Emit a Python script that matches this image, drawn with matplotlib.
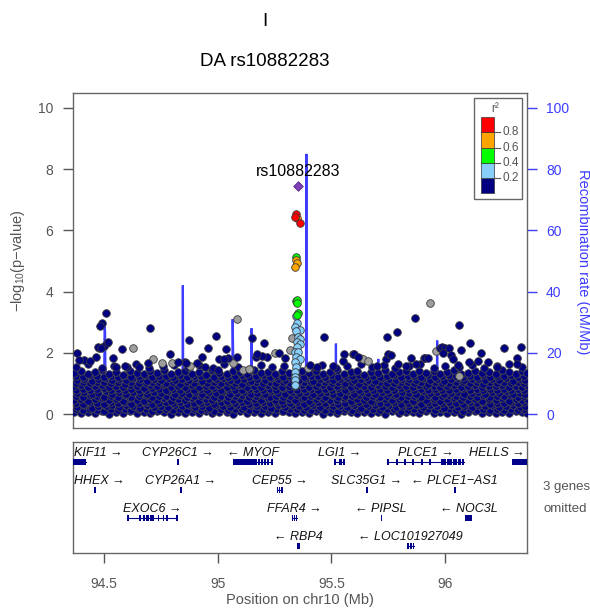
import matplotlib
matplotlib.use('Agg')
import matplotlib.pyplot as plt
from matplotlib.patches import Rectangle

plt.rcParams['font.family'] = ['Liberation Sans', 'DejaVu Sans']
plt.rcParams['mathtext.fontset'] = 'custom'
plt.rcParams['mathtext.rm'] = 'Liberation Sans'
plt.rcParams['mathtext.it'] = 'Liberation Sans:italic'

# ---------------- data ----------------
lead_name = 'rs10882283'
lead_pos = [95.355]
lead_logp = [7.45]

red_pos = [95.346, 95.342, 95.360]
red_logp = [6.53, 6.45, 6.24]
orange_pos = [95.351, 95.346, 95.351, 95.342]
orange_logp = [6.40, 5.03, 4.93, 4.81]
green_pos = [95.346, 95.346, 95.351, 95.351, 95.355, 95.351]
green_logp = [5.13, 3.70, 3.73, 3.63, 3.30, 3.23]
lblue_pos = [95.346, 95.351, 95.338, 95.360, 95.346, 95.355, 95.364, 95.351, 95.360,
             95.351, 95.342, 95.355, 95.346, 95.351, 95.360, 95.338, 95.346, 95.342,
             95.342, 95.342, 95.342]
lblue_logp = [3.20, 2.97, 2.85, 2.75, 2.70, 2.52, 2.45, 2.35, 2.30,
              2.20, 2.03, 2.03, 1.86, 1.65, 1.80, 1.70, 1.54, 1.37,
              1.20, 1.11, 0.95]
grey_pos = [94.627, 94.715, 94.754, 94.798, 94.877, 95.083, 95.110, 95.136, 95.066,
            95.254, 95.316, 95.329, 95.399, 95.627, 95.640, 95.662, 95.934, 95.961,
            96.061, 94.478]
grey_logp = [2.16, 1.80, 1.67, 1.67, 1.57, 3.10, 1.44, 1.47, 1.67,
             1.99, 2.09, 2.48, 1.50, 1.83, 1.80, 1.73, 3.63, 2.06,
             1.24, 2.16]
navy_pos = [94.509, 94.491, 94.482, 94.513, 94.702, 94.579, 94.873, 94.991, 95.035,
            95.149, 95.202, 94.956, 94.539, 94.789, 94.693, 94.474, 94.500, 94.465,
            94.855, 94.930, 95.044, 95.083, 95.167, 95.215, 94.382, 94.518, 94.487,
            94.412, 94.390, 94.439, 94.592, 94.553, 94.654, 94.825, 94.860, 94.908,
            94.943, 95.004, 95.000, 95.026, 95.197, 95.175, 95.294, 95.469, 95.553,
            95.596, 95.557, 95.601, 95.509, 95.618, 95.702, 95.741, 95.746, 95.789,
            95.750, 95.763, 95.868, 95.851, 95.829, 95.794, 95.873, 95.908, 95.912,
            95.925, 95.978, 95.987, 96.000, 96.018, 95.991, 96.026, 96.035, 96.057,
            96.061, 96.070, 96.110, 96.158, 96.145, 96.189, 96.228, 96.259, 96.333,
            96.316, 96.316, 95.268, 95.404, 95.436, 96.105]
navy_logp = [3.30, 2.97, 2.88, 2.32, 2.81, 2.12, 2.42, 2.55, 2.12,
             2.48, 2.32, 2.16, 1.83, 1.96, 1.67, 2.19, 2.22, 1.86,
             1.70, 1.86, 1.83, 1.86, 1.86, 1.86, 1.99, 2.35, 2.16,
             1.76, 1.76, 1.73, 1.57, 1.54, 1.54, 1.70, 1.67, 1.67,
             1.54, 1.80, 1.44, 1.80, 1.90, 1.96, 1.83, 2.52, 1.73,
             1.96, 1.96, 1.96, 1.57, 1.86, 1.57, 1.80, 2.52, 2.68,
             1.96, 1.93, 3.14, 1.83, 1.57, 1.63, 1.63, 1.83, 1.83,
             1.83, 2.16, 2.19, 2.16, 2.16, 1.99, 1.93, 1.80, 1.60,
             2.91, 2.09, 2.32, 1.99, 1.73, 1.70, 1.54, 2.16, 2.19,
             1.83, 1.63, 1.99, 1.60, 1.55, 1.70]

# dense mass of weakly associated SNPs (navy)
band_pos_a = [94.368, 94.398, 94.431, 94.462, 94.490, 94.523, 94.552, 94.584, 94.613, 94.645,
              94.676, 94.704, 94.735, 94.766, 94.795, 94.826, 94.857, 94.886, 94.917, 94.948,
              94.977, 95.008, 95.039, 95.068, 95.099, 95.130, 95.159, 95.190, 95.221, 95.250,
              95.281, 95.312, 95.341, 95.372, 95.403, 95.432, 95.463, 95.494, 95.523, 95.554,
              95.585, 95.614, 95.645, 95.676, 95.705, 95.736, 95.767, 95.796, 95.827, 95.858,
              95.887, 95.918, 95.949, 95.978, 96.009, 96.040, 96.069, 96.100, 96.131, 96.160,
              96.191, 96.222, 96.251, 96.282, 96.313, 96.340, 96.358]
band_pos_b = [94.383, 94.414, 94.446, 94.476, 94.507, 94.537, 94.568, 94.598, 94.629, 94.660,
              94.690, 94.720, 94.751, 94.781, 94.811, 94.842, 94.872, 94.902, 94.933, 94.963,
              94.993, 95.024, 95.054, 95.084, 95.115, 95.145, 95.175, 95.206, 95.236, 95.266,
              95.297, 95.327, 95.357, 95.388, 95.418, 95.448, 95.479, 95.509, 95.539, 95.570,
              95.600, 95.630, 95.661, 95.691, 95.721, 95.752, 95.782, 95.812, 95.843, 95.873,
              95.903, 95.934, 95.964, 95.994, 96.025, 96.055, 96.085, 96.116, 96.146, 96.176,
              96.207, 96.237, 96.267, 96.298, 96.328, 96.352]
band_pos_c = [94.376, 94.407, 94.439, 94.469, 94.499, 94.530, 94.561, 94.591, 94.621, 94.652,
              94.683, 94.712, 94.743, 94.773, 94.803, 94.834, 94.864, 94.894, 94.925, 94.955,
              94.985, 95.016, 95.046, 95.076, 95.107, 95.137, 95.167, 95.198, 95.228, 95.258,
              95.289, 95.319, 95.349, 95.380, 95.410, 95.440, 95.471, 95.501, 95.531, 95.562,
              95.592, 95.622, 95.653, 95.683, 95.713, 95.744, 95.774, 95.804, 95.835, 95.865,
              95.895, 95.926, 95.956, 95.986, 96.017, 96.047, 96.077, 96.108, 96.138, 96.168,
              96.199, 96.229, 96.259, 96.290, 96.320, 96.348]
band_row0 = [0.05, 0.02, 0.08, 0.03, 0.10, 0.01, 0.06, 0.04, 0.09, 0.02, 0.07, 0.03, 0.11, 0.05,
             0.01, 0.08, 0.04, 0.06, 0.02, 0.10, 0.03, 0.07, 0.05, 0.01, 0.09, 0.04, 0.06, 0.02,
             0.08, 0.03, 0.11, 0.05, 0.02, 0.07, 0.04, 0.09, 0.01, 0.06, 0.03, 0.10, 0.05, 0.02,
             0.08, 0.04, 0.06, 0.01, 0.09, 0.03, 0.07, 0.05, 0.02, 0.10, 0.04, 0.06, 0.03, 0.08,
             0.01, 0.05, 0.09, 0.02, 0.07, 0.04, 0.06, 0.03, 0.10, 0.05, 0.02]
band_row0m = [0.15, 0.12, 0.17, 0.14, 0.11, 0.16, 0.13, 0.18, 0.12, 0.15, 0.17, 0.11, 0.14, 0.16,
              0.13, 0.18, 0.12, 0.15, 0.14, 0.17, 0.11, 0.16, 0.13, 0.15, 0.18, 0.12, 0.14, 0.17,
              0.13, 0.16, 0.11, 0.15, 0.18, 0.12, 0.14, 0.16, 0.13, 0.17, 0.11, 0.15, 0.14, 0.18,
              0.12, 0.16, 0.13, 0.15, 0.17, 0.11, 0.14, 0.16, 0.12, 0.18, 0.13, 0.15, 0.17, 0.14,
              0.11, 0.16, 0.13, 0.18, 0.12, 0.15, 0.14, 0.17, 0.13, 0.16]
band_row1 = [0.24, 0.29, 0.21, 0.27, 0.25, 0.31, 0.22, 0.28, 0.26, 0.20, 0.30, 0.24, 0.27, 0.22,
             0.29, 0.25, 0.31, 0.23, 0.27, 0.21, 0.28, 0.26, 0.24, 0.30, 0.22, 0.29, 0.25, 0.27,
             0.21, 0.31, 0.23, 0.28, 0.26, 0.24, 0.29, 0.22, 0.30, 0.25, 0.27, 0.23, 0.28, 0.21,
             0.26, 0.30, 0.24, 0.29, 0.22, 0.27, 0.25, 0.31, 0.23, 0.28, 0.26, 0.21, 0.29, 0.24,
             0.27, 0.22, 0.30, 0.25, 0.28, 0.23, 0.26, 0.29, 0.24, 0.27]
band_row1m = [0.37, 0.34, 0.39, 0.36, 0.33, 0.38, 0.35, 0.40, 0.34, 0.37, 0.39, 0.33, 0.36, 0.38,
              0.35, 0.40, 0.34, 0.37, 0.36, 0.39, 0.33, 0.38, 0.35, 0.37, 0.40, 0.34, 0.36, 0.39,
              0.35, 0.38, 0.33, 0.37, 0.40, 0.34, 0.36, 0.38, 0.35, 0.39, 0.33, 0.37, 0.36, 0.40,
              0.34, 0.38, 0.35, 0.37, 0.39, 0.33, 0.36, 0.38, 0.34, 0.40, 0.35, 0.37, 0.39, 0.36,
              0.33, 0.38, 0.35, 0.40, 0.34, 0.37, 0.36, 0.39, 0.35, 0.38]
band_row2 = [0.46, 0.50, 0.43, 0.48, 0.52, 0.45, 0.49, 0.44, 0.51, 0.47, 0.42, 0.50, 0.46, 0.53,
             0.44, 0.48, 0.45, 0.51, 0.43, 0.49, 0.47, 0.52, 0.44, 0.46, 0.50, 0.43, 0.48, 0.45,
             0.52, 0.47, 0.44, 0.49, 0.46, 0.51, 0.43, 0.48, 0.50, 0.45, 0.47, 0.52, 0.44, 0.49,
             0.46, 0.43, 0.51, 0.48, 0.45, 0.50, 0.47, 0.44, 0.52, 0.46, 0.49, 0.43, 0.48, 0.51,
             0.45, 0.47, 0.50, 0.44, 0.49, 0.46, 0.52, 0.43, 0.48, 0.45, 0.50]
band_row2m = [0.59, 0.56, 0.61, 0.58, 0.55, 0.60, 0.57, 0.62, 0.56, 0.59, 0.61, 0.55, 0.58, 0.60,
              0.57, 0.62, 0.56, 0.59, 0.58, 0.61, 0.55, 0.60, 0.57, 0.59, 0.62, 0.56, 0.58, 0.61,
              0.57, 0.60, 0.55, 0.59, 0.62, 0.56, 0.58, 0.60, 0.57, 0.61, 0.55, 0.59, 0.58, 0.62,
              0.56, 0.60, 0.57, 0.59, 0.61, 0.55, 0.58, 0.60, 0.56, 0.62, 0.57, 0.59, 0.61, 0.58,
              0.55, 0.60, 0.57, 0.62, 0.56, 0.59, 0.58, 0.61, 0.57, 0.60]
band_row3 = [0.68, 0.72, 0.65, 0.70, 0.74, 0.66, 0.71, 0.67, 0.73, 0.69, 0.64, 0.72, 0.68, 0.75,
             0.66, 0.70, 0.67, 0.73, 0.65, 0.71, 0.69, 0.74, 0.66, 0.68, 0.72, 0.65, 0.70, 0.67,
             0.74, 0.69, 0.66, 0.71, 0.68, 0.73, 0.65, 0.70, 0.72, 0.67, 0.69, 0.74, 0.66, 0.71,
             0.68, 0.65, 0.73, 0.70, 0.67, 0.72, 0.69, 0.66, 0.74, 0.68, 0.71, 0.65, 0.70, 0.73,
             0.67, 0.69, 0.72, 0.66, 0.71, 0.68, 0.74, 0.65, 0.70, 0.67]
band_row3m = [0.80, 0.83, 0.78, 0.81, 0.84, 0.79, 0.82, 0.77, 0.83, 0.80, 0.78, 0.84, 0.81, 0.79,
              0.82, 0.77, 0.83, 0.80, 0.81, 0.78, 0.84, 0.79, 0.82, 0.80, 0.77, 0.83, 0.81, 0.78,
              0.82, 0.79, 0.84, 0.80, 0.77, 0.83, 0.81, 0.79, 0.82, 0.78, 0.84, 0.80, 0.81, 0.77,
              0.83, 0.79, 0.82, 0.80, 0.78, 0.84, 0.81, 0.79, 0.83, 0.77, 0.82, 0.80, 0.78, 0.81,
              0.84, 0.79, 0.82, 0.77, 0.83, 0.80, 0.81, 0.78, 0.82, 0.79]
band_row4 = [0.90, 0.94, 0.87, 0.92, 0.96, 0.88, 0.93, 0.89, 0.95, 0.91, 0.86, 0.94, 0.90, 0.97,
             0.88, 0.92, 0.89, 0.95, 0.87, 0.93, 0.91, 0.96, 0.88, 0.90, 0.94, 0.87, 0.92, 0.89,
             0.96, 0.91, 0.88, 0.93, 0.90, 0.95, 0.87, 0.92, 0.94, 0.89, 0.91, 0.96, 0.88, 0.93,
             0.90, 0.87, 0.95, 0.92, 0.89, 0.94, 0.91, 0.88, 0.96, 0.90, 0.93, 0.87, 0.92, 0.95,
             0.89, 0.91, 0.94, 0.88, 0.93, 0.90, 0.96, 0.87, 0.92, 0.89, 0.94]
band_row4m = [1.02, 1.05, 1.00, 1.03, 1.06, 1.01, 1.04, 0.99, 1.05, 1.02, 1.00, 1.06, 1.03, 1.01,
              1.04, 0.99, 1.05, 1.02, 1.03, 1.00, 1.06, 1.01, 1.04, 1.02, 0.99, 1.05, 1.03, 1.00,
              1.04, 1.01, 1.06, 1.02, 0.99, 1.05, 1.03, 1.01, 1.04, 1.00, 1.06, 1.02, 1.03, 0.99,
              1.05, 1.01, 1.04, 1.02, 1.00, 1.06, 1.03, 1.01, 1.05, 0.99, 1.04, 1.02, 1.00, 1.03,
              1.06, 1.01, 1.04, 0.99, 1.05, 1.02, 1.03, 1.00, 1.04, 1.01]
band_row5 = [1.12, 1.16, 1.09, 1.14, 1.18, 1.10, 1.15, 1.11, 1.17, 1.13, 1.08, 1.16, 1.12, 1.19,
             1.10, 1.14, 1.11, 1.17, 1.09, 1.15, 1.13, 1.18, 1.10, 1.12, 1.16, 1.09, 1.14, 1.11,
             1.18, 1.13, 1.10, 1.15, 1.12, 1.17, 1.09, 1.14, 1.16, 1.11, 1.13, 1.18, 1.10, 1.15,
             1.12, 1.09, 1.17, 1.14, 1.11, 1.16, 1.13, 1.10, 1.18, 1.12, 1.15, 1.09, 1.14, 1.17,
             1.11, 1.13, 1.16, 1.10, 1.15, 1.12, 1.18, 1.09, 1.14, 1.11]
band_row5m = [1.24, 1.21, 1.26, 1.23, 1.20, 1.25, 1.22, 1.27, 1.21, 1.24, 1.26, 1.20, 1.23, 1.25,
              1.22, 1.27, 1.21, 1.24, 1.23, 1.26, 1.20, 1.25, 1.22, 1.24, 1.27, 1.21, 1.23, 1.26,
              1.22, 1.25, 1.20, 1.24, 1.27, 1.21, 1.23, 1.25, 1.22, 1.26, 1.20, 1.24, 1.23, 1.27,
              1.21, 1.25, 1.22, 1.24, 1.26, 1.20, 1.23, 1.25, 1.21, 1.27, 1.22, 1.24, 1.26, 1.23,
              1.20, 1.25, 1.22, 1.27, 1.21, 1.24, 1.23, 1.26, 1.22, 1.25]
band_row6 = [1.34, 1.40, 1.30, 1.37, 1.44, 1.32, 1.38, 1.29, 1.42, 1.35, 1.31, 1.39, 1.33, 1.45,
             1.30, 1.36, 1.41, 1.32, 1.38, 1.29, 1.43, 1.34, 1.31, 1.40, 1.36, 1.30, 1.44, 1.33,
             1.38, 1.31, 1.42, 1.35, 1.29, 1.39, 1.34, 1.41, 1.30, 1.37, 1.43, 1.32, 1.36, 1.40,
             1.29, 1.38, 1.33, 1.44, 1.31, 1.36, 1.42, 1.30, 1.39, 1.34, 1.41, 1.32, 1.37, 1.45,
             1.30, 1.35, 1.40, 1.33, 1.38, 1.31, 1.43, 1.36, 1.32, 1.39, 1.34]
band_top_pos = [94.375, 94.430, 94.490, 94.545, 94.600, 94.640, 94.700, 94.760, 94.810, 94.870,
                94.920, 94.980, 95.030, 95.090, 95.140, 95.190, 95.240, 95.290, 95.410, 95.460,
                95.520, 95.570, 95.630, 95.680, 95.730, 95.780, 95.840, 95.890, 95.950, 96.000,
                96.060, 96.120, 96.170, 96.230, 96.280, 96.340]
band_top_logp = [1.55, 1.62, 1.50, 1.58, 1.53, 1.64, 1.49, 1.57, 1.61, 1.52, 1.59, 1.51, 1.63,
                 1.55, 1.48, 1.60, 1.54, 1.58, 1.52, 1.61, 1.50, 1.57, 1.63, 1.53, 1.59, 1.49,
                 1.56, 1.62, 1.51, 1.58, 1.54, 1.60, 1.50, 1.57, 1.63, 1.55]

# recombination rate (cM/Mb)
recomb_pos = [94.364, 94.400, 94.450, 94.500, 94.503, 94.505, 94.508, 94.600, 94.700, 94.845,
              94.847, 94.849, 94.950, 95.064, 95.066, 95.068, 95.070, 95.147, 95.149, 95.151,
              95.250, 95.300, 95.388, 95.390, 95.392, 95.450, 95.518, 95.520, 95.522, 95.600,
              95.704, 95.706, 95.708, 95.800, 95.963, 95.965, 95.967, 96.100, 96.200, 96.360]
recomb_rate = [0.5, 1.2, 0.8, 1.0, 29.0, 27.0, 1.5, 0.6, 1.0, 1.0,
               42.0, 1.0, 0.5, 1.0, 31.0, 20.0, 1.0, 1.0, 28.0, 1.0,
               0.5, 2.0, 2.0, 85.0, 2.0, 0.5, 1.0, 23.0, 1.0, 0.8,
               1.0, 18.0, 1.0, 0.5, 1.0, 24.0, 1.0, 1.0, 0.5, 0.8]

# genes
gene_names = ['KIF11', 'CYP26C1', 'MYOF', 'LGI1', 'PLCE1', 'HELLS', 'HHEX', 'CYP26A1', 'CEP55',
              'SLC35G1', 'PLCE1\u2212AS1', 'EXOC6', 'FFAR4', 'PIPSL', 'NOC3L', 'RBP4', 'LOC101927049']
gene_start = [94.352, 94.822, 95.066, 95.513, 95.746, 96.294, 94.456, 94.836, 95.259,
              95.652, 96.038, 94.601, 95.325, 95.716, 96.088, 95.351, 95.833]
gene_end = [94.421, 94.830, 95.241, 95.557, 96.083, 96.362, 94.462, 94.841, 95.285,
            95.657, 96.042, 94.820, 95.347, 95.720, 96.118, 95.360, 95.864]
gene_row = [0, 0, 0, 0, 0, 0, 1, 1, 1, 1, 1, 2, 2, 2, 2, 3, 3]
gene_strand = ['+', '+', '-', '+', '+', '+', '+', '+', '+', '+', '-', '+', '+', '-', '-', '-', '-']
gene_exons = [
    [(94.352, 94.385), (94.388, 94.421)],
    [(94.822, 94.830)],
    [(95.066, 95.171), (95.178, 95.182), (95.191, 95.195), (95.204, 95.208), (95.217, 95.221), (95.235, 95.241)],
    [(95.513, 95.517), (95.535, 95.545), (95.552, 95.557)],
    [(95.746, 95.749), (95.784, 95.787), (95.819, 95.822), (95.854, 95.857), (95.893, 95.896),
     (95.929, 95.932), (95.982, 96.005), (96.009, 96.030), (96.035, 96.052), (96.057, 96.068), (96.074, 96.083)],
    [(96.294, 96.362)],
    [(94.456, 94.462)],
    [(94.836, 94.841)],
    [(95.259, 95.264), (95.268, 95.275), (95.280, 95.285)],
    [(95.652, 95.657)],
    [(96.038, 96.042)],
    [(94.601, 94.604), (94.653, 94.656), (94.671, 94.680), (94.684, 94.700), (94.704, 94.719),
     (94.736, 94.739), (94.758, 94.761), (94.775, 94.778), (94.817, 94.820)],
    [(95.325, 95.330), (95.334, 95.339), (95.343, 95.347)],
    [(95.716, 95.720)],
    [(96.088, 96.118)],
    [(95.351, 95.360)],
    [(95.833, 95.840), (95.845, 95.852), (95.857, 95.864)],
]

r2_colors = ['#000080', '#87CEFA', '#00FF00', '#FFA500', '#FF0000']
r2_ticks = [0.2, 0.4, 0.6, 0.8]
x_ticks = [94.5, 95.0, 95.5, 96.0]
x_ticklabels = ['94.5', '95', '95.5', '96']
y_ticks = [0, 2, 4, 6, 8, 10]
recomb_ticks = [0, 20, 40, 60, 80, 100]

# ---------------- figure ----------------
W, H = 590, 612
fig = plt.figure(figsize=(W / 100, H / 100), dpi=100)
GREY = '#555555'
BLUE = '#3c3cff'
XLIM = (94.364, 96.36)

ax = fig.add_axes([73 / W, 1 - 428 / H, 454 / W, 335 / H])
ax2 = ax.twinx()
ax.set_zorder(ax2.get_zorder() + 1)
ax.patch.set_visible(False)
ax.set_xlim(XLIM)
ax.set_ylim(-0.457, 10.49)
ax2.set_ylim(-4.57, 104.9)

# recombination line (behind points)
ax2.plot(recomb_pos, recomb_rate, color=BLUE, lw=1.6, zorder=1, solid_joinstyle='miter')

pt = dict(s=30, linewidths=0.6, edgecolors='#3a3a3a', zorder=3)
band_pt = dict(s=30, linewidths=0.6, edgecolors='#4a4a4a', zorder=3)
rows = [(band_pos_a, band_row0), (band_pos_c, band_row0m), (band_pos_b, band_row1),
        (band_pos_c, band_row1m), (band_pos_a, band_row2), (band_pos_c, band_row2m),
        (band_pos_b, band_row3), (band_pos_c, band_row3m), (band_pos_a, band_row4),
        (band_pos_c, band_row4m), (band_pos_b, band_row5), (band_pos_c, band_row5m),
        (band_pos_a, band_row6), (band_top_pos, band_top_logp)]
for xs, ys in rows:
    n = min(len(xs), len(ys))
    ax.scatter(xs[:n], ys[:n], c=r2_colors[0], **band_pt)
ax.scatter(grey_pos, grey_logp, c='#9e9e9e', **pt)
ax.scatter(navy_pos, navy_logp, c=r2_colors[0], **pt)
ax.scatter(lblue_pos, lblue_logp, c=r2_colors[1], **pt)
ax.scatter(green_pos, green_logp, c=r2_colors[2], **pt)
ax.scatter(orange_pos, orange_logp, c=r2_colors[3], **pt)
ax.scatter(red_pos, red_logp, c=r2_colors[4], **pt)
ax.scatter(lead_pos, lead_logp, marker='D', s=24, c='#7F3FB8', edgecolors='#5a2a80',
           linewidths=0.6, zorder=4)
ax.text(lead_pos[0], lead_logp[0] + 0.49, lead_name, ha='center', va='center', fontsize=11.5,
        color='black', zorder=5)

for sp in ax.spines.values():
    sp.set_color('#666666')
    sp.set_linewidth(1.0)
for sp in ax2.spines.values():
    sp.set_visible(False)
ax.set_xticks([])
ax.set_yticks(y_ticks)
ax.set_yticklabels([str(v) for v in y_ticks])
ax.tick_params(axis='y', length=7.2, width=1, color=GREY, labelcolor=GREY, labelsize=10, pad=7)
ax2.set_yticks(recomb_ticks)
ax2.set_yticklabels([str(v) for v in recomb_ticks])
ax2.tick_params(axis='y', length=7.2, width=1, color=BLUE, labelcolor=BLUE, labelsize=10, pad=6.5)
ax2.set_xticks([])

# r^2 legend
tA = ax.transAxes
ax.add_patch(Rectangle((0.883, 0.684), 0.106, 0.301, transform=tA, facecolor='white',
                       edgecolor='#666666', lw=1.0, zorder=6))
bh = 0.0454
for i, col in enumerate(r2_colors):
    ax.add_patch(Rectangle((0.899, 0.701 + i * bh), 0.028, bh, transform=tA, facecolor=col,
                           edgecolor='#333333', lw=0.5, zorder=7))
for i, v in enumerate(r2_ticks):
    yy = 0.701 + (i + 1) * bh
    ax.plot([0.927, 0.941], [yy, yy], transform=tA, color=GREY, lw=0.8, zorder=7)
    ax.text(0.947, yy, str(v), transform=tA, ha='left', va='center', fontsize=8.5,
            color=GREY, zorder=7)
ax.text(0.930, 0.953, 'r\u00b2', transform=tA, ha='center', va='center', fontsize=8.5,
        color=GREY, zorder=7)

# axis labels and titles
fig.text(18 / W, 1 - 261 / H, '\u2212log$_{10}$(p\u2212value)', rotation=90, ha='center',
         va='center', fontsize=10.5, color=GREY)
fig.text(583 / W, 1 - 262 / H, 'Recombination rate (cM/Mb)', rotation=270, ha='center',
         va='center', fontsize=10.5, color=BLUE)
fig.text(265 / W, 1 - 22 / H, 'I', ha='center', va='center', fontsize=13.5, color='black')
fig.text(265 / W, 1 - 62 / H, 'DA rs10882283', ha='center', va='center', fontsize=13.5,
         color='black')

# ---------------- gene panel ----------------
gax = fig.add_axes([73 / W, 1 - 553 / H, 454 / W, 111 / H])
gax.set_xlim(XLIM)
gax.set_ylim(3.96, 0)
for sp in gax.spines.values():
    sp.set_color('#666666')
    sp.set_linewidth(1.0)
gax.set_yticks([])
gax.set_xticks(x_ticks)
gax.set_xticklabels(x_ticklabels)
gax.tick_params(axis='x', length=7.2, width=1, color=GREY, labelcolor=GREY, labelsize=10, pad=10)

NAVY = '#00008B'
labels = []
for name, s, e, r, st, ex in zip(gene_names, gene_start, gene_end, gene_row, gene_strand, gene_exons):
    by = r + 0.71
    if len(ex) > 1:
        gax.plot([s, e], [by, by], color=NAVY, lw=0.8, zorder=2)
    for (a, b) in ex:
        w = max(b - a, 0.008)
        gax.add_patch(Rectangle((a, by - 0.11), w, 0.22, facecolor=NAVY, edgecolor='none', zorder=3))
    txt = (name + ' \u2192') if st == '+' else ('\u2190 ' + name)
    t = gax.text((s + e) / 2, r + 0.39, txt, ha='center', va='center', fontsize=9,
                 style='italic', color='#111111', zorder=4)
    labels.append(t)

fig.canvas.draw()
renderer = fig.canvas.get_renderer()
abb = gax.get_window_extent(renderer)
for t in labels:
    bb = t.get_window_extent(renderer)
    if bb.x0 < abb.x0 + 1:
        t.set_ha('left')
        t.set_x(XLIM[0] + 0.003)
    elif bb.x1 > abb.x1 - 2:
        t.set_ha('right')
        t.set_x(XLIM[1] - 0.012)

fig.text(300 / W, 1 - 600 / H, 'Position on chr10 (Mb)', ha='center', va='center',
         fontsize=10.5, color=GREY)
fig.text(543 / W, 1 - 487 / H, '3 genes', ha='left', va='center', fontsize=9.5, color=GREY)
fig.text(543 / W, 1 - 509 / H, 'omitted', ha='left', va='center', fontsize=9.5, color=GREY)

fig.savefig('out.png', dpi=100)
